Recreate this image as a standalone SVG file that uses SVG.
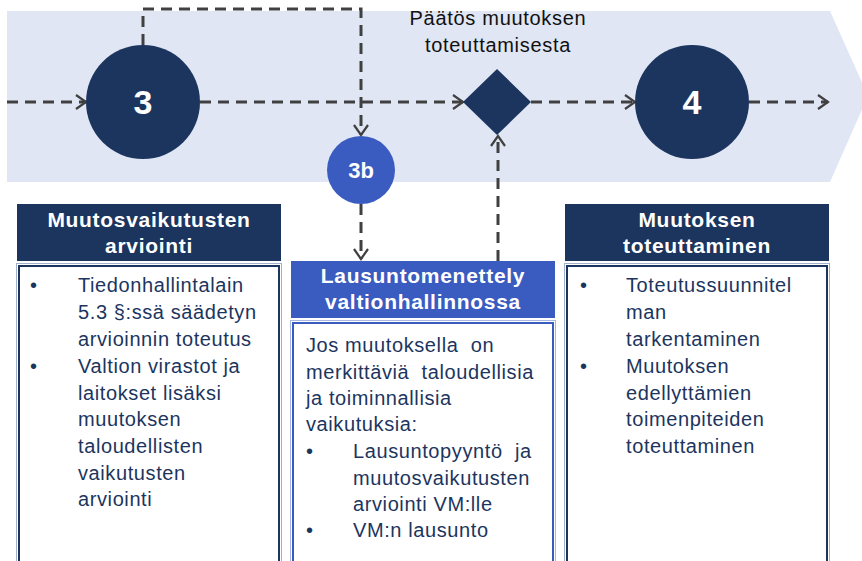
<svg xmlns="http://www.w3.org/2000/svg" width="862" height="561" viewBox="0 0 862 561">
<defs>
<marker id="arr" markerWidth="13" markerHeight="16" refX="11" refY="8" orient="auto" markerUnits="userSpaceOnUse">
<path d="M1,1 L11,8 L1,15" fill="none" stroke="#404040" stroke-width="2.2"/>
</marker>
<style>
.dash{fill:none;stroke:#404040;stroke-width:3;stroke-dasharray:11 7}
.num{font-family:"Liberation Sans",Arial,sans-serif;font-weight:bold;fill:#fff;text-anchor:middle}
.hd{font-family:"Liberation Sans",Arial,sans-serif;font-weight:bold;font-size:21px;letter-spacing:0.7px;fill:#fff;text-anchor:middle}
.bd{font-family:"Liberation Sans",Arial,sans-serif;font-size:20px;letter-spacing:0.6px;fill:#1C355E}
.ttl{font-family:"Liberation Sans",Arial,sans-serif;font-size:20px;letter-spacing:0.7px;fill:#111;text-anchor:middle}
.navy{fill:#1C355E}
.blue{fill:#3A5BBF}
.outer{fill:none;stroke:#A3B0CB;stroke-width:1}
</style>
</defs>
<rect width="862" height="561" fill="#fff"/>
<polygon id="band" points="7,11 830,11 868,96 830,182 7,182" fill="#E0E6F4"/>

<g id="connectors">
<line class="dash" x1="7" y1="102" x2="86" y2="102" marker-end="url(#arr)"/>
<line class="dash" x1="200" y1="102" x2="463" y2="102" marker-end="url(#arr)"/>
<line class="dash" x1="531" y1="102" x2="635" y2="102" marker-end="url(#arr)"/>
<line class="dash" x1="749" y1="102" x2="828" y2="102" marker-end="url(#arr)"/>
<polyline class="dash" points="143,45 143,9 361,9 361,135" marker-end="url(#arr)"/>
<line class="dash" x1="361" y1="204" x2="361" y2="259" marker-end="url(#arr)"/>
<line class="dash" x1="498" y1="261" x2="498" y2="136" marker-end="url(#arr)"/>
</g>

<g id="node3">
<circle cx="143" cy="102" r="57" class="navy"/>
<text x="143" y="114" class="num" font-size="34">3</text>
</g>
<g id="node3b">
<circle cx="361" cy="170" r="34" class="blue"/>
<text x="361" y="178" class="num" font-size="22">3b</text>
</g>
<g id="decision">
<polygon points="497,69 531,102 497,135 463,102" class="navy"/>
<text x="498" y="25" class="ttl">Päätös muutoksen</text>
<text x="498" y="52" class="ttl">toteuttamisesta</text>
</g>
<g id="node4">
<circle cx="692" cy="102" r="57" class="navy"/>
<text x="692" y="114" class="num" font-size="34">4</text>
</g>

<g id="box-arviointi">
<rect x="17" y="204" width="264" height="57" class="navy"/>
<text x="149" y="227" class="hd">Muutosvaikutusten</text>
<text x="149" y="253" class="hd">arviointi</text>
<rect x="16.5" y="263.5" width="265" height="310" fill="#fff" class="outer"/>
<rect x="19" y="266" width="260" height="310" fill="none" stroke="#1C355E" stroke-width="2"/>
<text x="30" y="292" class="bd">•</text>
<text x="78" y="292" class="bd">Tiedonhallintalain</text>
<text x="78" y="319" class="bd">5.3 §:ssä säädetyn</text>
<text x="78" y="346" class="bd">arvioinnin toteutus</text>
<text x="30" y="373" class="bd">•</text>
<text x="78" y="373" class="bd">Valtion virastot ja</text>
<text x="78" y="400" class="bd">laitokset lisäksi</text>
<text x="78" y="426" class="bd">muutoksen</text>
<text x="78" y="453" class="bd">taloudellisten</text>
<text x="78" y="480" class="bd">vaikutusten</text>
<text x="78" y="506" class="bd">arviointi</text>
</g>

<g id="box-lausunto">
<rect x="291" y="261" width="264" height="57" class="blue"/>
<text x="423" y="283" class="hd">Lausuntomenettely</text>
<text x="423" y="309" class="hd">valtionhallinnossa</text>
<rect x="290.5" y="320.5" width="265" height="250" fill="#fff" stroke="#A9B8E3" stroke-width="1"/>
<rect x="293" y="323" width="260" height="250" fill="none" stroke="#3A5BBF" stroke-width="2"/>
<text x="306" y="352" class="bd">Jos muutoksella&#160; on</text>
<text x="306" y="379" class="bd">merkittäviä&#160; taloudellisia</text>
<text x="306" y="405" class="bd">ja toiminnallisia</text>
<text x="306" y="431" class="bd">vaikutuksia:</text>
<text x="306" y="458" class="bd">•</text>
<text x="353" y="458" class="bd">Lausuntopyyntö&#160; ja</text>
<text x="353" y="485" class="bd">muutosvaikutusten</text>
<text x="353" y="511" class="bd">arviointi VM:lle</text>
<text x="306" y="537" class="bd">•</text>
<text x="353" y="537" class="bd">VM:n lausunto</text>
</g>

<g id="box-toteuttaminen">
<rect x="565" y="204" width="264" height="57" class="navy"/>
<text x="697" y="227" class="hd">Muutoksen</text>
<text x="697" y="253" class="hd">toteuttaminen</text>
<rect x="564.5" y="263.5" width="265" height="310" fill="#fff" class="outer"/>
<rect x="567" y="266" width="260" height="310" fill="none" stroke="#1C355E" stroke-width="2"/>
<text x="580" y="292" class="bd">•</text>
<text x="626" y="292" class="bd">Toteutussuunnitel</text>
<text x="626" y="319" class="bd">man</text>
<text x="626" y="346" class="bd">tarkentaminen</text>
<text x="580" y="373" class="bd">•</text>
<text x="626" y="373" class="bd">Muutoksen</text>
<text x="626" y="400" class="bd">edellyttämien</text>
<text x="626" y="426" class="bd">toimenpiteiden</text>
<text x="626" y="453" class="bd">toteuttaminen</text>
</g>
</svg>
